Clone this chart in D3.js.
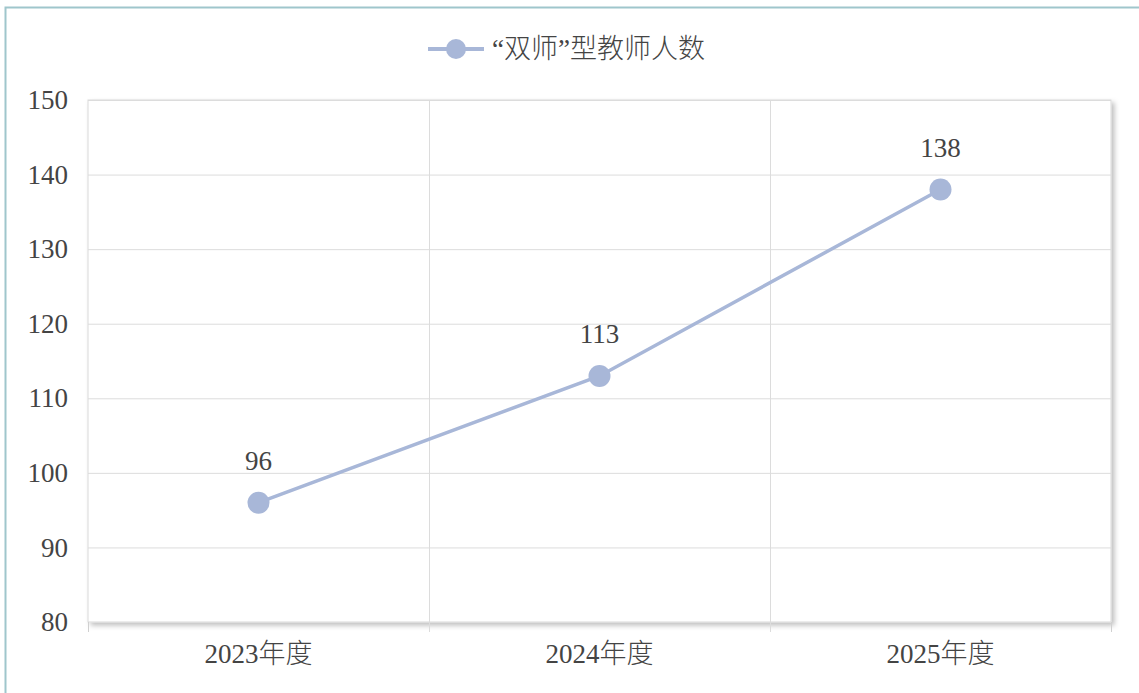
<!DOCTYPE html>
<html>
<head>
<meta charset="utf-8">
<script src="https://cdn.jsdelivr.net/npm/d3@7"></script>
<style>
  html, body { margin: 0; padding: 0; background: #fff; }
  svg text { font-family: "Liberation Serif", "Noto Sans CJK SC", serif; font-weight: 300; fill: #444; }
</style>
</head>
<body>
<svg id="chart"></svg>
<script>
// DATA
const categories = ['2023年度', '2024年度', '2025年度'];
const values = [96, 113, 138];
const seriesName = '“双师”型教师人数';
const yTicks = [80, 90, 100, 110, 120, 130, 140, 150];

const width = 1139, height = 693;
const margin = { top: 100, right: 28, bottom: 71, left: 88 };
const lineColor = '#a8b7d8';
const fontSize = '27px';

const svg = d3.select('#chart')
    .attr('width', width)
    .attr('height', height);

// outer frame (right and bottom edges fall outside the picture)
svg.append('rect')
    .attr('x', 5.5).attr('y', 7.5)
    .attr('width', width + 10).attr('height', height + 10)
    .attr('fill', 'none')
    .attr('stroke', '#9fc6cc')
    .attr('stroke-width', 2);

const defs = svg.append('defs');
const shadow = defs.append('filter').attr('id', 'shadow')
    .attr('x', '-5%').attr('y', '-5%').attr('width', '110%').attr('height', '110%');
shadow.append('feDropShadow')
    .attr('dx', 3).attr('dy', 3).attr('stdDeviation', 2.5)
    .attr('flood-color', '#000').attr('flood-opacity', 0.25);

const innerW = width - margin.left - margin.right;
const innerH = height - margin.top - margin.bottom;

const x = d3.scaleBand().domain(categories).range([0, innerW]);
const y = d3.scaleLinear().domain([80, 150]).range([innerH, 0]);

const g = svg.append('g').attr('transform', `translate(${margin.left},${margin.top})`);

// plot area with shadow
g.append('rect')
    .attr('width', innerW).attr('height', innerH)
    .attr('fill', '#fff')
    .attr('stroke', '#d9d9d9')
    .attr('filter', 'url(#shadow)');

// horizontal grid
g.selectAll('.hgrid')
    .data(yTicks.slice(1))
    .enter().append('line')
    .attr('x1', 0).attr('x2', innerW)
    .attr('y1', d => y(d) + 0.5).attr('y2', d => y(d) + 0.5)
    .attr('stroke', '#dcdcdc');

// vertical grid at category boundaries
const bounds = categories.slice(1).map(c => x(c));
g.selectAll('.vgrid')
    .data(bounds)
    .enter().append('line')
    .attr('x1', d => d + 0.5).attr('x2', d => d + 0.5)
    .attr('y1', 0).attr('y2', innerH + 10)
    .attr('stroke', '#dcdcdc');

// edge ticks
g.selectAll('.etick')
    .data([0, innerW])
    .enter().append('line')
    .attr('x1', d => d + 0.5).attr('x2', d => d + 0.5)
    .attr('y1', innerH).attr('y2', innerH + 10)
    .attr('stroke', '#d0d0d0');

// y axis labels
const yAxis = g.append('g')
    .call(d3.axisLeft(y).tickValues(yTicks).tickSize(0).tickPadding(20));
yAxis.select('.domain').remove();
yAxis.selectAll('text')
    .style('font-size', fontSize)
    .attr('fill', '#444');

// x axis labels
const xAxis = g.append('g')
    .attr('transform', `translate(0,${innerH})`)
    .call(d3.axisBottom(x).tickSize(0).tickPadding(22));
xAxis.select('.domain').remove();
xAxis.selectAll('text')
    .style('font-size', fontSize)
    .attr('fill', '#444');

// line
const cx = d => x(d) + x.bandwidth() / 2;
const line = d3.line()
    .x((d, i) => cx(categories[i]))
    .y(d => y(d));

g.append('path')
    .datum(values)
    .attr('d', line)
    .attr('fill', 'none')
    .attr('stroke', lineColor)
    .attr('stroke-width', 3.5);

g.selectAll('.dot')
    .data(values)
    .enter().append('circle')
    .attr('cx', (d, i) => cx(categories[i]))
    .attr('cy', d => y(d))
    .attr('r', 11)
    .attr('fill', lineColor);

g.selectAll('.vlabel')
    .data(values)
    .enter().append('text')
    .attr('x', (d, i) => cx(categories[i]))
    .attr('y', d => y(d) - 42)
    .attr('dy', '0.35em')
    .attr('text-anchor', 'middle')
    .style('font-size', fontSize)
    .text(d => d);

// legend
const legend = svg.append('g').attr('transform', 'translate(428,49)');
legend.append('line')
    .attr('x1', 0).attr('x2', 56)
    .attr('stroke', lineColor).attr('stroke-width', 4);
legend.append('circle')
    .attr('cx', 28).attr('r', 10)
    .attr('fill', lineColor);
legend.append('text')
    .attr('x', 64).attr('dy', '0.35em')
    .style('font-size', fontSize)
    .text(seriesName);
</script>
</body>
</html>
